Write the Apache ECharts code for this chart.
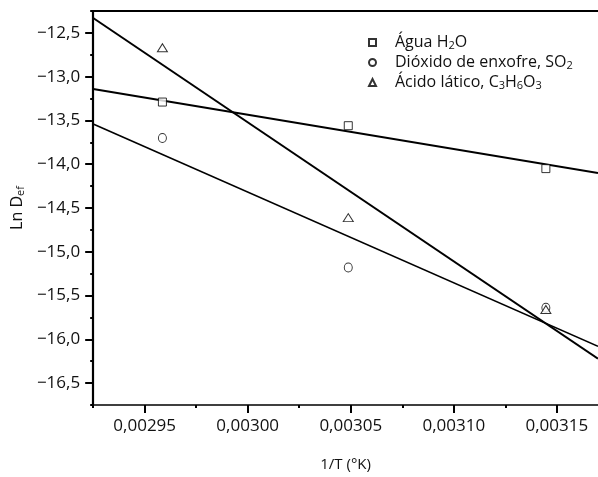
<!DOCTYPE html>
<html>
<head>
<meta charset="utf-8">
<script src="https://cdn.jsdelivr.net/npm/echarts@6/dist/echarts.min.js"></script>
<style>
  html, body { margin: 0; padding: 0; background: #fff; }
  #chartID { width: 598px; height: 477px; }
</style>
</head>
<body>
<div id="chartID"></div>
<script>
// pontos experimentais (1/T em 1/K, Ln Def)
var invT = [0.0029586, 0.0030488, 0.0031447];
var agua = [-13.29, -13.56, -14.05];
var so2 = [-13.70, -15.18, -15.64];
var latico = [-12.67, -14.61, -15.66];

// retas de ajuste, extremos
var fitX = [0.002925, 0.00317];
var fitAgua = [-13.14, -14.10];
var fitSO2 = [-13.54, -16.08];
var fitLatico = [-12.33, -16.22];

// ticks
var xMajor = [0.00295, 0.00300, 0.00305, 0.00310, 0.00315];
var xMinor = [0.002925, 0.002975, 0.003025, 0.003075, 0.003125];
var yMajor = [-16.5, -16.0, -15.5, -15.0, -14.5, -14.0, -13.5, -13.0, -12.5];
var yMinor = [-16.75, -16.25, -15.75, -15.25, -14.75, -14.25, -13.75, -13.25, -12.75, -12.25];

var legendNames = ['Água H2O', 'Dióxido de enxofre, SO2', 'Ácido lático, C3H6O3'];
var legendRich = {
    'Água H2O': 'Água H{sub|2}O',
    'Dióxido de enxofre, SO2': 'Dióxido de enxofre, SO{sub|2}',
    'Ácido lático, C3H6O3': 'Ácido lático, C{sub|3}H{sub|6}O{sub|3}'
};

var FONT = 'Open Sans';

function pairs(xs, ys) {
    var out = [];
    for (var i = 0; i < xs.length; i++) out.push([xs[i], ys[i]]);
    return out;
}

var chart = echarts.init(document.getElementById('chartID'));

var pointStyle = { color: '#fff', borderColor: '#000', borderWidth: 1 };
var lineStyle = { color: '#000', width: 2 };

var option = {
    animation: false,
    grid: { left: 93, top: 11, right: 0, bottom: 67.5 },
    legend: {
        data: legendNames,
        orient: 'vertical',
        left: 368,
        top: 34,
        padding: 0,
        itemGap: 3,
        itemWidth: 7,
        itemHeight: 7,
        selectedMode: false,
        formatter: function (name) { return legendRich[name]; },
        textStyle: {
            fontFamily: FONT,
            fontSize: 16,
            color: '#111',
            padding: [0, 0, 0, 14],
            lineHeight: 17,
            rich: {
                sub: { fontFamily: FONT, fontSize: 11, lineHeight: 11, verticalAlign: 'bottom', padding: [6, 0, 0, 0] }
            }
        }
    },
    xAxis: [
        {
            type: 'value',
            min: 0.002925,
            max: 0.00317,
            name: '1/T (°K)',
            nameLocation: 'middle',
            nameGap: 52,
            nameTextStyle: { fontFamily: FONT, fontSize: 15, color: '#111' },
            axisLine: { lineStyle: { color: '#000', width: 1.5 } },
            axisTick: { customValues: xMajor, length: 8, lineStyle: { color: '#000', width: 2 } },
            axisLabel: {
                customValues: xMajor,
                margin: 13,
                fontFamily: FONT,
                fontSize: 17,
                color: '#111',
                formatter: function (v) { return v.toFixed(5).replace('.', ','); }
            },
            splitLine: { show: false }
        },
        {
            type: 'value',
            min: 0.002925,
            max: 0.00317,
            position: 'bottom',
            axisLine: { show: false },
            axisTick: { customValues: xMinor, length: 3, lineStyle: { color: '#000', width: 2 } },
            axisLabel: { show: false },
            splitLine: { show: false }
        },
        {
            type: 'value',
            min: 0.002925,
            max: 0.00317,
            position: 'top',
            axisLine: { lineStyle: { color: '#000', width: 2 } },
            axisTick: { show: false },
            axisLabel: { show: false },
            splitLine: { show: false }
        }
    ],
    yAxis: [
        {
            type: 'value',
            min: -16.75,
            max: -12.25,
            name: 'Ln D{sub|ef}',
            nameLocation: 'middle',
            nameGap: 64,
            nameTextStyle: {
                fontFamily: FONT,
                fontSize: 16,
                color: '#111',
                lineHeight: 18,
                rich: {
                    sub: { fontFamily: FONT, fontSize: 11, lineHeight: 11, verticalAlign: 'bottom', padding: [6, 0, 0, 0] }
                }
            },
            axisLine: { lineStyle: { color: '#000', width: 2.2 } },
            axisTick: { customValues: yMajor, length: 8, lineStyle: { color: '#000', width: 2 } },
            axisLabel: {
                customValues: yMajor,
                margin: 13,
                fontFamily: FONT,
                fontSize: 17,
                color: '#111',
                formatter: function (v) { return v.toFixed(1).replace('.', ',').replace('-', '\u2212'); }
            },
            splitLine: { show: false }
        },
        {
            type: 'value',
            min: -16.75,
            max: -12.25,
            position: 'left',
            axisLine: { show: false },
            axisTick: { customValues: yMinor, length: 3, lineStyle: { color: '#000', width: 2 } },
            axisLabel: { show: false },
            splitLine: { show: false }
        }
    ],
    series: [
        { name: 'fit agua', type: 'line', data: pairs(fitX, fitAgua), showSymbol: false, lineStyle: lineStyle, silent: true },
        { name: 'fit so2', type: 'line', data: pairs(fitX, fitSO2), showSymbol: false, lineStyle: { color: '#000', width: 1.6 }, silent: true },
        { name: 'fit latico', type: 'line', data: pairs(fitX, fitLatico), showSymbol: false, lineStyle: lineStyle, silent: true },
        { name: legendNames[0], type: 'scatter', symbol: 'rect', symbolSize: [8, 8], data: pairs(invT, agua), itemStyle: pointStyle, z: 3 },
        { name: legendNames[1], type: 'scatter', symbol: 'circle', symbolSize: [8, 9], data: pairs(invT, so2), itemStyle: pointStyle, z: 3 },
        { name: legendNames[2], type: 'scatter', symbol: 'triangle', symbolSize: [10, 8], data: pairs(invT, latico), itemStyle: pointStyle, z: 3 }
    ]
};

chart.setOption(option);
</script>
</body>
</html>
